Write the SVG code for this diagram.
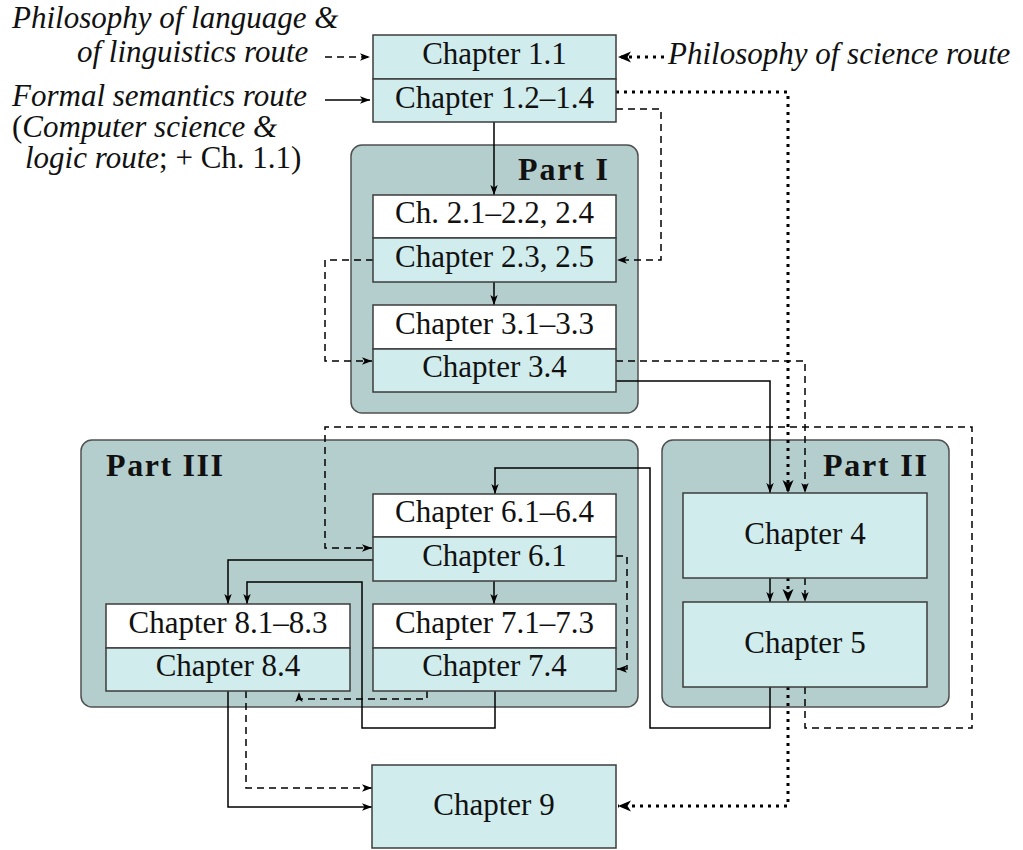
<svg xmlns="http://www.w3.org/2000/svg" width="1023" height="850" viewBox="0 0 1023 850">
<style>
.part{fill:#b4cecd;stroke:#505050;stroke-width:1.5}
.lt{fill:#d0ecec;stroke:#3c3c3c;stroke-width:1.5}
.wt{fill:#ffffff;stroke:#3c3c3c;stroke-width:1.5}
.t{font-family:"Liberation Serif",serif;font-size:31px;fill:#111;text-anchor:middle}
.i{font-family:"Liberation Serif",serif;font-size:31px;font-style:italic;fill:#111}
.u{font-style:normal}
.b{font-family:"Liberation Serif",serif;font-size:32px;font-weight:bold;fill:#111}
.s{fill:none;stroke:#000;stroke-width:1.5}
.d{fill:none;stroke:#000;stroke-width:1.5;stroke-dasharray:7 5}
.o{fill:none;stroke:#000;stroke-width:3;stroke-dasharray:3 5}
</style>
<defs>
<marker id="a" markerUnits="userSpaceOnUse" markerWidth="12" markerHeight="10" refX="10" refY="5" orient="auto" overflow="visible">
<path d="M0,1.3 L10,5 L0,8.7 L2.5,5 Z" fill="#000"/>
</marker>
<marker id="A" markerUnits="userSpaceOnUse" markerWidth="16" markerHeight="14" refX="13" refY="7" orient="auto" overflow="visible">
<path d="M0,1.5 L13,7 L0,12.5 L3.5,7 Z" fill="#000"/>
</marker>
</defs>

<g id="labels">
<text class="i" x="12" y="28">Philosophy of language &amp;</text>
<text class="i" x="77" y="62">of linguistics route</text>
<text class="i" x="668" y="64">Philosophy of science route</text>
<text class="i" x="12" y="106">Formal semantics route</text>
<text class="i" x="12" y="137"><tspan class="u">(</tspan>Computer science &amp;</text>
<text class="i" x="25" y="168">logic route<tspan class="u">; + Ch. 1.1)</tspan></text>
</g>

<g id="part1">
<rect class="part" x="351" y="145" width="287" height="268" rx="11"/>
<text class="b" x="608" y="180" text-anchor="end" textLength="90">Part I</text>
</g>
<g id="part3">
<rect class="part" x="81" y="440" width="557" height="267" rx="11"/>
<text class="b" x="106" y="476" textLength="117">Part III</text>
</g>
<g id="part2">
<rect class="part" x="662" y="440" width="287" height="267" rx="11"/>
<text class="b" x="927" y="476" text-anchor="end" textLength="104">Part II</text>
</g>

<g id="connectors">
<path class="d" d="M325,57 H370" marker-end="url(#a)"/>
<path class="s" d="M325,100 H370" marker-end="url(#a)"/>
<path class="o" d="M664,57 H618" marker-end="url(#A)"/>
<path class="s" d="M494,122 V195" marker-end="url(#a)"/>
<path class="d" d="M616,109 H661 V260 H617" marker-end="url(#a)"/>
<path class="o" d="M616,92 H788 V493" marker-end="url(#A)"/>
<path class="s" d="M494,282 V305" marker-end="url(#a)"/>
<path class="d" d="M373,260 H325 V361 H372" marker-end="url(#a)"/>
<path class="d" d="M616,361 H805 V493" marker-end="url(#a)"/>
<path class="s" d="M616,381 H770 V493" marker-end="url(#a)"/>
<path class="s" d="M770,578 V602" marker-end="url(#a)"/>
<path class="o" d="M788,578 V602" marker-end="url(#A)"/>
<path class="d" d="M805,578 V602" marker-end="url(#a)"/>
<path class="s" d="M770,687 V728 H650 V468 H495 V494" marker-end="url(#a)"/>
<path class="d" d="M805,687 V728 H972 V427 H325 V548 H372" marker-end="url(#a)"/>
<path class="o" d="M788,687 V806 H618" marker-end="url(#A)"/>
<path class="s" d="M494,581 V604" marker-end="url(#a)"/>
<path class="d" d="M616,556 H627 V669 H617" marker-end="url(#a)"/>
<path class="s" d="M373,560 H228 V604" marker-end="url(#a)"/>
<path class="s" d="M495,691 V728 H362 V582 H247 V604" marker-end="url(#a)"/>
<path class="d" d="M427,691 V699 H299 V692" marker-end="url(#a)"/>
<path class="s" d="M228,691 V807 H372" marker-end="url(#a)"/>
<path class="d" d="M246,691 V788 H372" marker-end="url(#a)"/>
</g>

<g id="ch1">
<rect class="lt" x="373" y="35" width="243" height="44"/>
<text class="t" x="494.5" y="64">Chapter 1.1</text>
<rect class="lt" x="373" y="79" width="243" height="43"/>
<text class="t" x="494.5" y="108">Chapter 1.2–1.4</text>
</g>
<g id="ch2">
<rect class="wt" x="373" y="195" width="243" height="43"/>
<text class="t" x="494.5" y="223">Ch. 2.1–2.2, 2.4</text>
<rect class="lt" x="373" y="238" width="243" height="44"/>
<text class="t" x="494.5" y="267">Chapter 2.3, 2.5</text>
</g>
<g id="ch3">
<rect class="wt" x="373" y="305" width="243" height="44"/>
<text class="t" x="494.5" y="334">Chapter 3.1–3.3</text>
<rect class="lt" x="373" y="349" width="243" height="43"/>
<text class="t" x="494.5" y="377">Chapter 3.4</text>
</g>
<g id="ch6">
<rect class="wt" x="373" y="494" width="243" height="43"/>
<text class="t" x="494.5" y="522">Chapter 6.1–6.4</text>
<rect class="lt" x="373" y="537" width="243" height="44"/>
<text class="t" x="494.5" y="566">Chapter 6.1</text>
</g>
<g id="ch7">
<rect class="wt" x="373" y="604" width="243" height="44"/>
<text class="t" x="494.5" y="633">Chapter 7.1–7.3</text>
<rect class="lt" x="373" y="648" width="243" height="43"/>
<text class="t" x="494.5" y="676">Chapter 7.4</text>
</g>
<g id="ch8">
<rect class="wt" x="106" y="604" width="244" height="44"/>
<text class="t" x="228" y="633">Chapter 8.1–8.3</text>
<rect class="lt" x="106" y="648" width="244" height="43"/>
<text class="t" x="228" y="676">Chapter 8.4</text>
</g>
<g id="ch4">
<rect class="lt" x="683" y="493" width="244" height="85"/>
<text class="t" x="805" y="544">Chapter 4</text>
</g>
<g id="ch5">
<rect class="lt" x="683" y="602" width="244" height="85"/>
<text class="t" x="805" y="653">Chapter 5</text>
</g>
<g id="ch9">
<rect class="lt" x="372" y="765" width="244" height="83"/>
<text class="t" x="494" y="815">Chapter 9</text>
</g>
</svg>
